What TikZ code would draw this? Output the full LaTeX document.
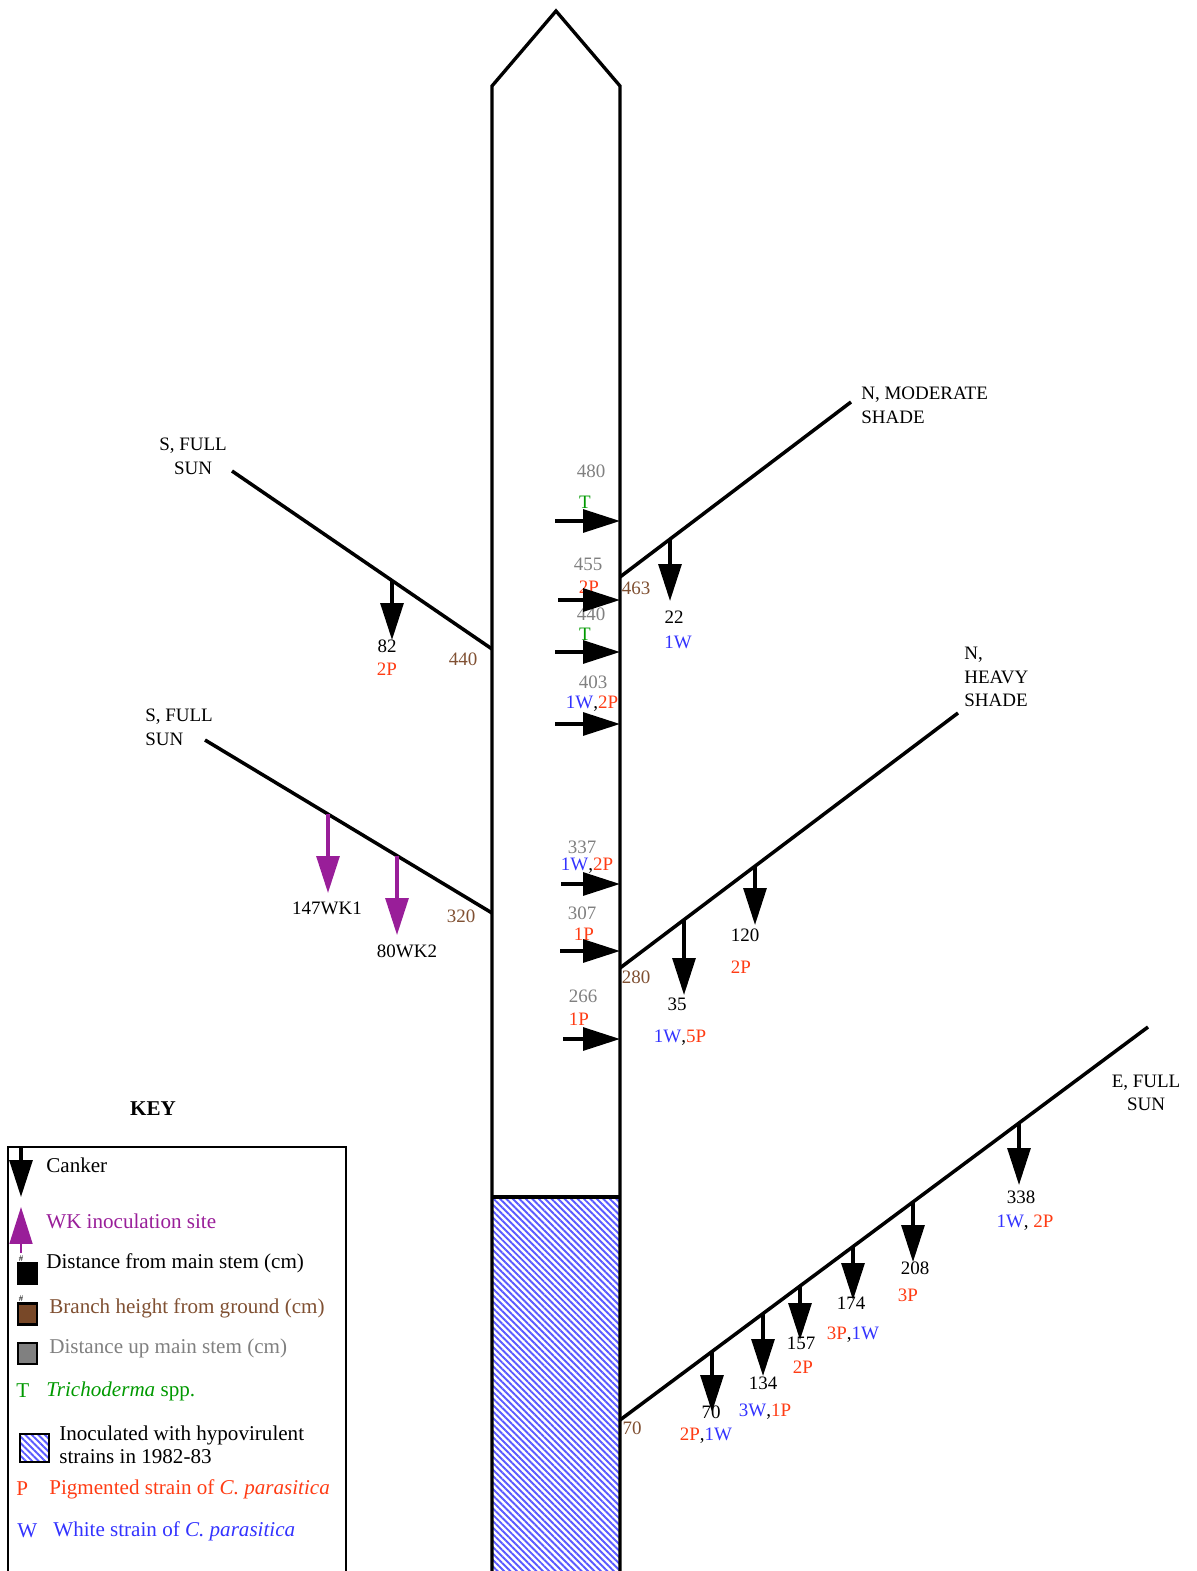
\documentclass[tikz,border=0pt]{standalone}
\usepackage{fontspec}
\setmainfont{Liberation Serif}
\usepackage{tikz}
\usetikzlibrary{arrows.meta,patterns.meta,positioning}
\definecolor{upgrey}{RGB}{128,128,128}
\definecolor{htbrown}{RGB}{128,80,50}
\definecolor{sqbrown}{RGB}{120,72,40}
\definecolor{pigred}{RGB}{255,60,20}
\definecolor{whiteblue}{RGB}{51,51,255}
\definecolor{trgreen}{RGB}{0,153,0}
\definecolor{wkpurple}{RGB}{153,30,153}
\definecolor{hatchblue}{RGB}{90,90,255}
\newcommand{\pig}[1]{\textcolor{pigred}{#1}}
\newcommand{\wht}[1]{\textcolor{whiteblue}{#1}}

\begin{document}
\begin{tikzpicture}[
    x=0.02cm, y=-0.02cm,
    >={Triangle[length=21pt,width=13pt]},
    font=\fontsize{10.8}{13.5}\selectfont,
    stem/.style={line width=1.9pt},
    branch/.style={line width=2pt},
    canker/.style={->, line width=1.9pt},
    wk/.style={->, line width=1.9pt, draw=wkpurple},
    hatch/.style={
		pattern={Lines[angle=-45,distance=2.6pt,line width=1.1pt]},
		pattern color=hatchblue
	},
    lab/.style={inner sep=0pt},
    up/.style={lab, text=upgrey},
    ht/.style={lab, text=htbrown},
    keytext/.style={
		inner sep=0pt,
		anchor=west,
		font=\fontsize{12}{13}\selectfont
	},
    keysq/.style={
		draw,
		line width=1.3pt,
		inner sep=0pt,
		minimum width=0.38cm,
		minimum height=0.42cm
	}
  ]
  \useasboundingbox (0,0) rectangle (1196,1571);

    % main stem, hatched at the foot
  \fill[hatch] (492,1197) rectangle (620,1571);
  \draw[stem] (492,1571) -- (492,86) -- (556,11) -- (620,86) -- (620,1571);
  \draw[stem] (492,1197) -- (620,1197);

    % branches
  \coordinate (bS1) at (492,649);  \coordinate (bS1end) at (232,471);
  \coordinate (bS2) at (492,913);  \coordinate (bS2end) at (205,740);
  \coordinate (bNm) at (620,577);  \coordinate (bNmend) at (851,402);
  \coordinate (bNh) at (620,968);  \coordinate (bNhend) at (958,713);
  \coordinate (bE)  at (620,1420); \coordinate (bEend)  at (1148,1027);
  \draw[branch] (bS1) -- (bS1end);
  \draw[branch] (bS2) -- (bS2end);
  \draw[branch] (bNm) -- (bNmend);
  \draw[branch] (bNh) -- (bNhend);
  \draw[branch] (bE) -- (bEend);

  \node [lab, align=center] (dirS1) at (193,456) {S, FULL\\SUN};
  \node [lab, align=left, anchor=west] (dirS2) at (145,727) {S, FULL\\SUN};
  \node [lab, align=left, anchor=west] (dirNm) at (861,405) {N, MODERATE\\SHADE};
  \node [lab, align=left, anchor=west] (dirNh) at (964,677) {N,\\HEAVY\\SHADE};
  \node [lab, align=center] (dirE) at (1146,1093) {E, FULL\\SUN};

  \node [ht] (h440) at (463,659) {440};
  \node [ht] (h320) at (461,916) {320};
  \node [ht] (h463) at (636,588) {463};
  \node [ht] (h280) at (636,977) {280};
  \node [ht] (h70) at (632,1428) {70};

    % cankers up the main stem
  \node [up] (u480) at (591,471) {480};
  \node [lab, text=trgreen] (q480) at (585,502) {T};
  \node [up] (u455) at (588,564) {455};
  \node [lab] (q455) at (589,587) {\pig{2P}};
  \node [up] (u440) at (591,614) {440};
  \node [lab, text=trgreen] (q440) at (585,634) {T};
  \node [up] (u403) at (593,682) {403};
  \node [lab] (q403) at (592,704) {\wht{1W},\pig{2P}};
  \node [up] (u337) at (582,847) {337};
  \node [lab] (q337) at (587,866) {\wht{1W},\pig{2P}};
  \node [up] (u307) at (582,913) {307};
  \node [lab] (q307) at (584,934) {\pig{1P}};
  \node [up] (u266) at (583,996) {266};
  \node [lab] (q266) at (579,1019) {\pig{1P}};

  \coordinate (a480) at (555,521);  \coordinate (s480) at (620,521);
  \coordinate (a455) at (558,600);  \coordinate (s455) at (620,600);
  \coordinate (a440) at (555,652);  \coordinate (s440) at (620,652);
  \coordinate (a403) at (555,724);  \coordinate (s403) at (620,724);
  \coordinate (a337) at (561,884);  \coordinate (s337) at (620,884);
  \coordinate (a307) at (560,951);  \coordinate (s307) at (620,951);
  \coordinate (a266) at (563,1039); \coordinate (s266) at (620,1039);
  \draw [canker] (a480) -- (s480);
  \draw [canker] (a455) -- (s455);
  \draw [canker] (a440) -- (s440);
  \draw [canker] (a403) -- (s403);
  \draw [canker] (a337) -- (s337);
  \draw [canker] (a307) -- (s307);
  \draw [canker] (a266) -- (s266);

    % cankers and WK sites on the branches
  \node [lab] (d82) at (387,646) {82};
  \node [lab] (q82) at (387,669) {\pig{2P}};
  \node [lab] (dwk1) at (327,908) {147WK1};
  \node [lab] (dwk2) at (407,951) {80WK2};
  \node [lab] (d22) at (674,617) {22};
  \node [lab] (q22) at (678,642) {\wht{1W}};
  \node [lab] (d35) at (677,1004) {35};
  \node [lab] (q35) at (680,1038) {\wht{1W},\pig{5P}};
  \node [lab] (d120) at (745,935) {120};
  \node [lab] (q120) at (741,967) {\pig{2P}};
  \node [lab] (d70) at (711,1412) {70};
  \node [lab] (q70) at (706,1436) {\pig{2P},\wht{1W}};
  \node [lab] (d134) at (763,1383) {134};
  \node [lab] (q134) at (765,1412) {\wht{3W},\pig{1P}};
  \node [lab] (d157) at (801,1343) {157};
  \node [lab] (q157) at (803,1367) {\pig{2P}};
  \node [lab] (d174) at (851,1303) {174};
  \node [lab] (q174) at (853,1335) {\pig{3P},\wht{1W}};
  \node [lab] (d208) at (915,1268) {208};
  \node [lab] (q208) at (908,1295) {\pig{3P}};
  \node [lab] (d338) at (1021,1197) {338};
  \node [lab] (q338) at (1025,1223) {\wht{1W}, \pig{2P}};

  \coordinate (c82) at (392,580.5);   \coordinate (t82) at (392,640);
  \coordinate (cwk1) at (328,814);    \coordinate (twk1) at (328,893);
  \coordinate (cwk2) at (397,856);    \coordinate (twk2) at (397,935);
  \coordinate (c22) at (670,539);     \coordinate (t22) at (670,601);
  \coordinate (c35) at (684,920);     \coordinate (t35) at (684,995);
  \coordinate (c120) at (755,866);    \coordinate (t120) at (755,925);
  \coordinate (c70) at (712,1351.5);  \coordinate (t70) at (712,1412);
  \coordinate (c134) at (763,1313.6); \coordinate (t134) at (763,1376);
  \coordinate (c157) at (800,1286);   \coordinate (t157) at (800,1340);
  \coordinate (c174) at (853,1246.6); \coordinate (t174) at (853,1300);
  \coordinate (c208) at (913,1201.9); \coordinate (t208) at (913,1262);
  \coordinate (c338) at (1019,1123);  \coordinate (t338) at (1019,1185);
  \draw [canker] (c82) -- (t82);
  \draw [wk] (cwk1) -- (twk1);
  \draw [wk] (cwk2) -- (twk2);
  \draw [canker] (c22) -- (t22);
  \draw [canker] (c35) -- (t35);
  \draw [canker] (c120) -- (t120);
  \draw [canker] (c70) -- (t70);
  \draw [canker] (c134) -- (t134);
  \draw [canker] (c157) -- (t157);
  \draw [canker] (c174) -- (t174);
  \draw [canker] (c208) -- (t208);
  \draw [canker] (c338) -- (t338);

    % the key
  \node [font=\bfseries\fontsize{12}{13}\selectfont] (keyhead) at (153,1109) {KEY};
  \draw [line width=1.3pt] (8,1571) -- (8,1147) -- (346,1147) -- (346,1571);

  \coordinate (kc) at (21,1148); \coordinate (kct) at (21,1197);
  \draw [canker] (kc) -- (kct);
  \node [keytext] (kcanker) at (46,1165) {Canker};

  \coordinate (kw) at (21,1253); \coordinate (kwt) at (21,1207);
  \draw [wk, line width=1.3pt] (kw) -- (kwt);
  \node [keytext, text=wkpurple] (kwk) at (46,1221) {WK inoculation site};

  \node [font=\tiny, inner sep=0pt] (hashd) at (21,1259) {\#};
  \node [keysq, fill=black] (sqd) at (27.5,1273.5) {};
  \node [keytext] (kdist) at (46,1263) {Distance from main stem (cm)};

  \node [font=\tiny, inner sep=0pt] (hashh) at (21,1299) {\#};
  \node [keysq, fill=sqbrown] (sqh) at (27.5,1314) {};
  \node [keytext, text=htbrown] (kht) at (49,1308) {Branch height from ground (cm)};

  \node [keysq, fill=upgrey] (squ) at (27.5,1353.5) {};
  \node [keytext, text=upgrey] (kup) at (49,1348) {Distance up main stem (cm)};

  \node [keytext, text=trgreen] (kT) at (16,1391) {T};
  \node [keytext, text=trgreen] (ktr) at (46,1391) {\textit{Trichoderma} spp.};

  \node [keysq, hatch, minimum width=0.58cm, minimum height=0.56cm] (sqi) at (34.5,1448) {};
  \node [keytext, align=left] (kinoc) at (59,1444.5) {Inoculated with hypovirulent\\strains in 1982-83};

  \node [keytext, text=pigred] (kP) at (16,1489) {P};
  \node [keytext, text=pigred] (kpig) at (49,1489) {Pigmented strain of \textit{C. parasitica}};

  \node [keytext, text=whiteblue] (kW) at (17,1531) {W};
  \node [keytext, text=whiteblue] (kwht) at (53,1531) {White strain of \textit{C. parasitica}};

\end{tikzpicture}
\end{document}
